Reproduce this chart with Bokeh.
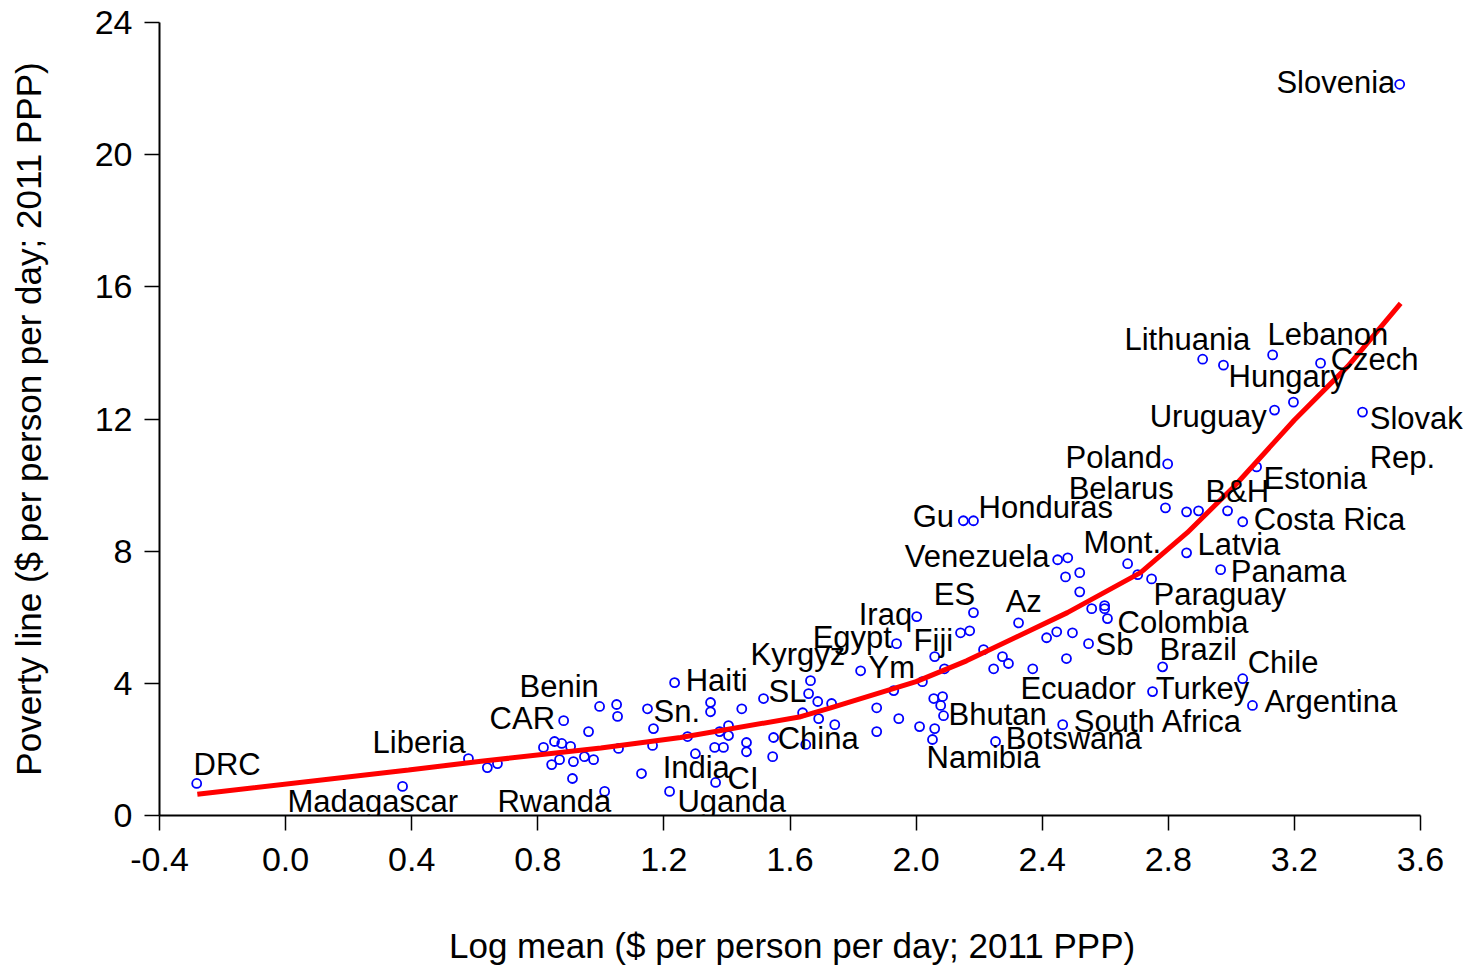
from bokeh.plotting import figure
from bokeh.models import Range1d, FixedTicker, PrintfTickFormatter, ColumnDataSource, LabelSet
from bokeh.core.properties import value
from bokeh.embed import file_html
from bokeh.resources import INLINE

# ---- data ----
pt_x = [-0.282, 0.371, 0.580, 0.640, 0.672, 0.818, 0.853, 0.876, 0.904, 0.882,
        0.844, 0.869, 0.913, 0.948, 0.977, 0.961, 0.910, 0.996, 1.050, 1.053,
        1.056, 1.012, 1.129, 1.148, 1.167, 1.164, 1.218, 1.234, 1.275, 1.300,
        1.348, 1.348, 1.361, 1.389, 1.364, 1.377, 1.405, 1.405, 1.447, 1.462,
        1.462, 1.516, 1.548, 1.545, 1.640, 1.665, 1.659, 1.688, 1.691, 1.650,
        1.732, 1.742, 1.824, 1.875, 1.875, 1.945, 1.929, 1.938, 2.002, 2.020,
        2.011, 2.059, 2.090, 2.056, 2.084, 2.078, 2.087, 2.059, 2.052, 2.141,
        2.170, 2.182, 2.214, 2.274, 2.246, 2.293, 2.325, 2.252, 2.370, 2.414,
        2.446, 2.496, 2.477, 2.465, 2.547, 2.519, 2.557, 2.598, 2.598, 2.607,
        2.750, 2.150, 2.182, 2.449, 2.481, 2.474, 2.519, 2.798, 2.791, 2.858,
        2.896, 2.988, 3.036, 3.080, 2.858, 2.966, 2.671, 2.703, 2.747, 2.909,
        2.975, 3.131, 3.283, 3.197, 3.137, 3.416, 3.534, 2.782, 3.036, 3.067]
pt_y = [0.97, 0.88, 1.72, 1.45, 1.57, 2.06, 2.24, 2.18, 2.09, 2.87,
        1.54, 1.69, 1.63, 1.78, 1.69, 2.54, 1.12, 3.30, 3.36, 3.00,
        2.03, 0.73, 1.27, 3.23, 2.63, 2.12, 0.73, 4.02, 2.39, 1.87,
        3.42, 3.14, 2.06, 2.06, 1.00, 2.54, 2.72, 2.42, 3.23, 2.21,
        1.93, 3.54, 2.36, 1.78, 3.11, 4.08, 3.69, 3.45, 2.93, 2.15,
        3.39, 2.75, 4.38, 3.26, 2.54, 2.93, 3.78, 5.20, 6.02, 4.05,
        2.69, 4.81, 4.44, 3.54, 3.60, 3.33, 3.02, 2.63, 2.30, 5.53,
        5.59, 6.14, 5.02, 4.81, 4.44, 4.60, 5.83, 2.24, 4.44, 5.38,
        5.56, 5.53, 4.75, 2.75, 5.20, 6.77, 6.26, 6.35, 6.26, 5.96,
        3.75, 8.92, 8.92, 7.74, 7.80, 7.22, 7.35, 10.64, 9.31, 9.19,
        9.22, 9.22, 8.89, 10.55, 7.95, 7.44, 7.62, 7.29, 7.16, 13.81,
        13.63, 13.94, 13.69, 12.51, 12.27, 12.21, 22.13, 4.50, 4.14, 3.33]

fit_x = [-0.28, 0.39, 0.62, 1.00, 1.253, 1.634, 1.729, 2.00, 2.16, 2.32,
         2.48, 2.712, 2.86, 3.008, 3.20, 3.37, 3.537]
fit_y = [0.64, 1.38, 1.64, 2.04, 2.36, 2.99, 3.26, 4.05, 4.68, 5.41,
         6.14, 7.35, 8.56, 9.95, 11.97, 13.60, 15.50]

lab_text = ["DRC", "Madagascar", "Liberia", "Benin", "CAR", "Rwanda", "Sn.", "Haiti",
            "India", "CI", "Uganda", "SL", "Kyrgyz", "China", "Egypt", "Iraq", "Ym",
            "Fiji", "ES", "Az", "Bhutan", "Namibia", "Botswana", "South Africa",
            "Ecuador", "Sb", "Colombia", "Paraguay", "Brazil", "Chile", "Turkey",
            "Argentina", "Gu", "Honduras", "Venezuela", "Mont.", "Latvia", "Panama",
            "Poland", "Belarus", "B&H", "Estonia", "Costa Rica", "Lithuania",
            "Lebanon", "Czech", "Hungary", "Uruguay", "Slovak", "Rep.", "Slovenia"]
lab_x = [-0.292, 0.006, 0.276, 0.742, 0.647, 0.672, 1.167, 1.269,
         1.196, 1.402, 1.243, 1.532, 1.475, 1.561, 1.672, 1.818, 1.849,
         1.992, 2.056, 2.284, 2.103, 2.033, 2.284, 2.500,
         2.331, 2.569, 2.639, 2.753, 2.772, 3.052, 2.760,
         3.105, 1.989, 2.198, 1.964, 2.531, 2.893, 2.998,
         2.474, 2.484, 2.918, 3.102, 3.071, 2.661,
         3.115, 3.315, 2.991, 2.741, 3.439, 3.439, 3.143]
lab_y = [1.24, 0.12, 1.90, 3.60, 2.63, 0.12, 2.84, 3.78,
         1.15, 0.79, 0.12, 3.45, 4.56, 2.00, 5.08, 5.77, 4.17,
         4.99, 6.38, 6.17, 2.75, 1.45, 2.00, 2.54,
         3.54, 4.87, 5.53, 6.38, 4.72, 4.32, 3.54,
         3.14, 8.74, 9.01, 7.53, 7.95, 7.89, 7.07,
         10.52, 9.58, 9.49, 9.88, 8.65, 14.09,
         14.24, 13.48, 12.97, 11.76, 11.70, 10.52, 21.86]

x_ticks = [-0.4, 0.0, 0.4, 0.8, 1.2, 1.6, 2.0, 2.4, 2.8, 3.2, 3.6]
y_ticks = [0, 4, 8, 12, 16, 20, 24]
x_title = "Log mean ($ per person per day; 2011 PPP)"
y_title = "Poverty line ($ per person per day; 2011 PPP)"

FONT = "Liberation Sans"

W, H = 1465, 967
X0, X1 = -0.4, 3.6
PX_LEFT, PX_AXIS_END = 159, 1420
# extend the frame to the right edge so labels past 3.6 are not clipped
x_end = X1 + (X1 - X0) * (W - 2 - PX_AXIS_END) / (PX_AXIS_END - PX_LEFT)

p = figure(width=W, height=H, x_range=Range1d(X0, x_end), y_range=Range1d(0, 24),
           output_backend="svg", toolbar_location=None,
           min_border_left=PX_LEFT, min_border_top=22, min_border_right=2,
           min_border_bottom=H - 816)
p.outline_line_color = None
p.xgrid.grid_line_color = None
p.ygrid.grid_line_color = None
p.background_fill_color = "white"
p.border_fill_color = "white"

for ax in (p.xaxis[0], p.yaxis[0]):
    ax.axis_line_width = 2
    ax.axis_line_color = "black"
    ax.major_tick_line_width = 1.5
    ax.major_tick_line_color = "black"
    ax.major_tick_out = 15
    ax.major_tick_in = 0
    ax.minor_tick_line_color = None
    ax.major_label_text_font = FONT
    ax.major_label_text_font_size = "34px"
    ax.major_label_text_color = "black"
    ax.axis_label_text_font = FONT
    ax.axis_label_text_font_size = "35px"
    ax.axis_label_text_font_style = "normal"
    ax.axis_label_text_color = "black"

p.xaxis.bounds = (X0, X1)
p.xaxis.ticker = FixedTicker(ticks=x_ticks)
p.xaxis.formatter = PrintfTickFormatter(format="%.1f")
p.yaxis.ticker = FixedTicker(ticks=y_ticks)
# trailing no-break spaces shift the centred title back under the -0.4..3.6 axis
p.xaxis.axis_label = x_title + "\u00a0" * 4
p.yaxis.axis_label = y_title
p.xaxis.major_label_standoff = 17
p.xaxis.axis_label_standoff = 52
p.yaxis.major_label_standoff = 12
p.yaxis.axis_label_standoff = 44

p.scatter(x=pt_x, y=pt_y, marker="circle", size=9, fill_color=None,
          line_color="#0000FF", line_width=1.8)
p.line(x=fit_x, y=fit_y, line_color="#FF0000", line_width=5)

src = ColumnDataSource(dict(x=lab_x, y=lab_y, t=lab_text))
labels = LabelSet(x="x", y="y", text="t", source=src, text_font=value(FONT),
                  text_font_size="31px", text_align="left", text_baseline="alphabetic",
                  text_color="black")
p.add_layout(labels)

open("out.html", "w").write(file_html(p, INLINE))
